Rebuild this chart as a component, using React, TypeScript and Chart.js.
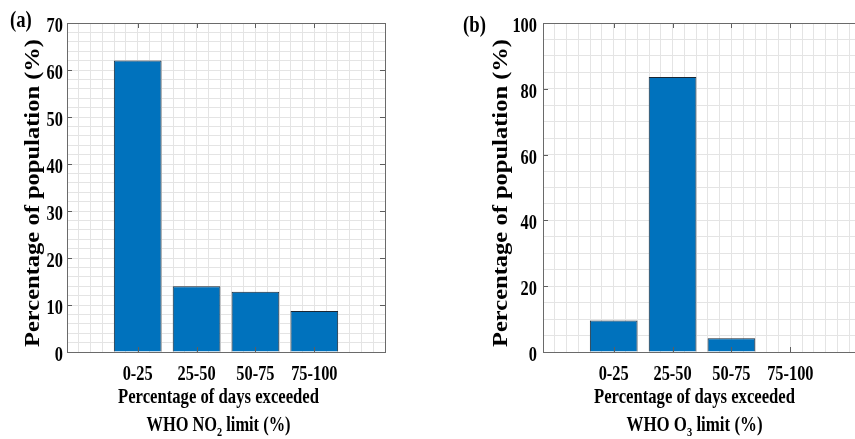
import React, { useEffect, useRef } from "react";
import { Chart, registerables } from "chart.js";

Chart.register(...registerables);

// ---- data ----
const categories = ["0-25", "25-50", "50-75", "75-100"];
const no2Values = [62, 14, 12.8, 8.7];
const o3Values = [9.6, 83.6, 4.2, 0];
const no2YTicks = [0, 10, 20, 30, 40, 50, 60, 70];
const o3YTicks = [0, 20, 40, 60, 80, 100];
const no2YMax = 70;
const o3YMax = 100;
const no2MinorStep = 2;
const o3MinorStep = 5;
const xMin = -0.2;
const xMax = 5.2;
const xMinorStep = 0.2;
const yTitle = "Percentage of population (%)";
const xTitleLine1 = "Percentage of days exceeded";

const SERIF = "'Liberation Serif', 'Times New Roman', serif";
const SX = 0.78;

type Panel = {
  tag: string;
  values: number[];
  yMax: number;
  yStep: number;
  yTicks: number[];
  gas: string;
  sub: string;
  tagX: number;
  tagY: number;
  yTitleX: number;
  tickGap: number;
  yWidth: number;
};

function drawScaled(ctx: CanvasRenderingContext2D, text: string, x: number, y: number, font: string, sx: number, align: string) {
  ctx.save();
  ctx.font = font;
  ctx.textAlign = "left";
  ctx.textBaseline = "alphabetic";
  const w = ctx.measureText(text).width * sx;
  const left = align === "center" ? x - w / 2 : align === "right" ? x - w : x;
  ctx.translate(left, y);
  ctx.scale(sx, 1);
  ctx.fillStyle = "#000";
  ctx.fillText(text, 0, 0);
  ctx.restore();
}

function makeChart(canvas: HTMLCanvasElement, p: Panel) {
  const textPlugin = {
    id: "texts",
    afterDatasetsDraw(chart: any) {
      const ctx: CanvasRenderingContext2D = chart.ctx;
      const a = chart.chartArea;
      const xs = chart.scales.x;
      const ys = chart.scales.y;
      // inside tick marks
      ctx.save();
      ctx.strokeStyle = "#5e5e5e";
      ctx.lineWidth = 1;
      ctx.beginPath();
      categories.forEach((_, i) => {
        const px = Math.round(xs.getPixelForValue(i + 1)) + 0.5;
        ctx.moveTo(px, a.bottom);
        ctx.lineTo(px, a.bottom - 5);
        ctx.moveTo(px, a.top);
        ctx.lineTo(px, a.top + 5);
      });
      p.yTicks.forEach((v) => {
        const py = Math.round(ys.getPixelForValue(v)) + 0.5;
        ctx.moveTo(a.left, py);
        ctx.lineTo(a.left + 5, py);
        ctx.moveTo(a.right, py);
        ctx.lineTo(a.right - 5, py);
      });
      ctx.stroke();
      // box
      ctx.strokeStyle = "#6a6a6a";
      ctx.strokeRect(Math.round(a.left) + 0.5, Math.round(a.top) + 0.5, Math.round(a.right - a.left), Math.round(a.bottom - a.top));
      ctx.restore();
    },
    afterDraw(chart: any) {
      const ctx: CanvasRenderingContext2D = chart.ctx;
      const a = chart.chartArea;
      const xs = chart.scales.x;
      const ys = chart.scales.y;
      const f21 = `bold 21px ${SERIF}`;
      // y tick labels
      p.yTicks.forEach((v) => {
        const py = ys.getPixelForValue(v);
        drawScaled(ctx, String(v), a.left - p.tickGap, py + 9, f21, SX, "right");
      });
      // x tick labels
      categories.forEach((c, i) => {
        const px = xs.getPixelForValue(i + 1);
        drawScaled(ctx, c, px, 380, f21, SX, "center");
      });
      // panel tag
      drawScaled(ctx, p.tag, p.tagX, p.tagY, `bold 24px ${SERIF}`, SX, "left");
      // x title line 1 fitted
      const cx = (a.left + a.right) / 2 - 7.5;
      ctx.save();
      ctx.font = f21;
      const w1 = ctx.measureText(xTitleLine1).width;
      ctx.restore();
      drawScaled(ctx, xTitleLine1, cx, 403, f21, 201 / w1, "center");
      // x title line 2 with subscript
      const small = `bold 13px ${SERIF}`;
      const segs = [
        { t: "WHO " + p.gas, f: f21, dy: 0 },
        { t: p.sub, f: small, dy: 5 },
        { t: " limit (%)", f: f21, dy: 0 },
      ];
      ctx.save();
      let total = 0;
      const widths = segs.map((s) => {
        ctx.font = s.f;
        const w = ctx.measureText(s.t).width;
        total += w;
        return w;
      });
      ctx.restore();
      const target = p.gas === "NO" ? 144 : 136;
      const s2 = target / total;
      let x = cx - target / 2;
      segs.forEach((s, i) => {
        drawScaled(ctx, s.t, x, 431 + s.dy, s.f, s2, "left");
        x += widths[i] * s2;
      });
      // y title rotated
      ctx.save();
      ctx.font = f21;
      const wy = ctx.measureText(yTitle).width;
      ctx.translate(p.yTitleX, 193);
      ctx.rotate(-Math.PI / 2);
      ctx.scale(308 / wy, 1);
      ctx.textAlign = "center";
      ctx.textBaseline = "alphabetic";
      ctx.fillStyle = "#000";
      ctx.fillText(yTitle, 0, 0);
      ctx.restore();
    },
  };

  return new Chart(canvas, {
    type: "bar",
    data: {
      datasets: [
        {
          data: p.values.map((v, i) => ({ x: i + 1, y: v })),
          backgroundColor: "#0072BD",
          borderColor: "#1a2633",
          borderWidth: 1,
          barPercentage: 0.81,
          categoryPercentage: 1,
        },
      ],
    },
    options: {
      responsive: false,
      maintainAspectRatio: false,
      animation: false,
      devicePixelRatio: 1,
      events: [],
      layout: { padding: { left: 0, right: 35, top: 23, bottom: 0 } },
      plugins: { legend: { display: false }, tooltip: { enabled: false } },
      scales: {
        x: {
          type: "linear",
          position: "bottom",
          min: xMin,
          max: xMax,
          offset: false,
          grid: { display: false, offset: false },
          border: { display: false },
          ticks: { display: false, autoSkip: false },
          afterBuildTicks: (s: any) => {
            s.ticks = categories.map((_, i) => ({ value: i + 1 }));
          },
          afterFit: (s: any) => {
            s.height = 87;
          },
        },
        xg: {
          type: "linear",
          position: "bottom",
          min: xMin,
          max: xMax,
          offset: false,
          grid: { offset: false, color: "#e4e4e4", drawTicks: false, tickLength: 0 },
          border: { display: false },
          ticks: { display: false, stepSize: xMinorStep, autoSkip: false },
          afterFit: (s: any) => {
            s.height = 0;
          },
        },
        y: {
          type: "linear",
          min: 0,
          max: p.yMax,
          grid: { color: "#e4e4e4", drawTicks: false, tickLength: 0 },
          border: { display: false },
          ticks: { display: false, stepSize: p.yStep, autoSkip: false },
          afterFit: (s: any) => {
            s.width = p.yWidth;
          },
        },
      },
    },
    plugins: [textPlugin],
  } as any);
}

export default function App() {
  const refA = useRef<HTMLCanvasElement>(null);
  const refB = useRef<HTMLCanvasElement>(null);
  useEffect(() => {
    const a = makeChart(refA.current!, {
      tag: "(a)",
      values: no2Values,
      yMax: no2YMax,
      yStep: no2MinorStep,
      yTicks: no2YTicks,
      gas: "NO",
      sub: "2",
      tagX: 10,
      tagY: 27,
      yTitleX: 39,
      tickGap: 4,
      yWidth: 67,
    });
    const b = makeChart(refB.current!, {
      tag: "(b)",
      values: o3Values,
      yMax: o3YMax,
      yStep: o3MinorStep,
      yTicks: o3YTicks,
      gas: "O",
      sub: "3",
      tagX: 23,
      tagY: 32,
      yTitleX: 67,
      tickGap: 6,
      yWidth: 103,
    });
    return () => {
      a.destroy();
      b.destroy();
    };
  }, []);
  return (
    <div style={{ position: "fixed", left: 0, top: 0, width: 855, height: 439, overflow: "hidden", background: "#fff" }}>
      <canvas ref={refA} width={420} height={439} style={{ position: "absolute", left: 0, top: 0, width: 420, height: 439 }} />
      <canvas ref={refB} width={456} height={439} style={{ position: "absolute", left: 440, top: 0, width: 456, height: 439 }} />
    </div>
  );
}
